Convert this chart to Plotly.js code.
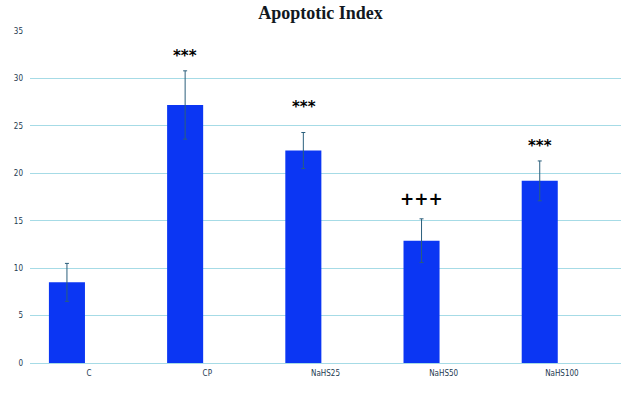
<!DOCTYPE html>
<html>
<head>
<meta charset="utf-8">
<script src="https://cdn.plot.ly/plotly-3.0.1.min.js"></script>
<style>
  html, body { margin: 0; padding: 0; background: #fff; }
  #chart { width: 621px; height: 414px; }
</style>
</head>
<body>
<div id="chart"></div>
<script>
// Apoptotic index per group
let groups = ['C', 'CP', 'NaHS25', 'NaHS50', 'NaHS100'];
let means = [8.5, 27.2, 22.4, 12.9, 19.2];
let errs = [2.0, 3.6, 1.9, 2.3, 2.1];
let marks = ['', '***', '***', '+++', '***'];
let markY = [0, 32.4, 27.0, 17.3, 22.9];

let tickColor = '#1d3a50';
let gridColor = '#a6dbe6';

let bars = {
    type: 'bar',
    x: groups,
    y: means,
    width: 0.305,
    offset: -0.34,
    marker: { color: '#0b36f3', line: { width: 0 } },
    error_y: {
        type: 'data',
        array: errs,
        visible: true,
        color: '#2b5f7c',
        thickness: 1,
        width: 2
    },
    hoverinfo: 'x+y'
};

let notes = [];
for (let i = 0; i < groups.length; i++) {
    if (!marks[i]) continue;
    notes.push({
        x: i - 0.185,
        y: markY[i],
        xref: 'x', yref: 'y',
        text: '<b>' + marks[i] + '</b>',
        showarrow: false,
        font: { family: 'DejaVu Sans, sans-serif', size: marks[i] === '+++' ? 17 : 15, color: '#000' }
    });
}

let layout = {
    width: 621,
    height: 414,
    margin: { l: 30, r: 0, t: 31, b: 51, pad: 0 },
    paper_bgcolor: '#fff',
    plot_bgcolor: '#fff',
    showlegend: false,
    title: {
        text: '<b>Apoptotic Index</b>',
        x: 0.516, xanchor: 'center',
        y: 0.985, yanchor: 'top',
        font: { family: 'Liberation Serif, serif', size: 18, color: '#111820' }
    },
    xaxis: {
        type: 'category',
        range: [-0.5, 4.5],
        showgrid: false,
        zeroline: false,
        showline: false,
        ticks: '',
        tickfont: { family: 'DejaVu Sans Condensed, sans-serif', size: 8, color: tickColor },
        ticklabelstandoff: 4
    },
    yaxis: {
        range: [0, 35],
        tickvals: [0, 5, 10, 15, 20, 25, 30, 35],
        showgrid: true,
        gridcolor: gridColor,
        gridwidth: 1,
        zeroline: true,
        zerolinecolor: gridColor,
        zerolinewidth: 1,
        showline: false,
        ticks: '',
        tickfont: { family: 'DejaVu Sans Condensed, sans-serif', size: 8, color: tickColor },
        ticklabelstandoff: 6
    },
    annotations: notes
};

Plotly.newPlot('chart', [bars], layout, { displayModeBar: false, staticPlot: true });
</script>
</body>
</html>
